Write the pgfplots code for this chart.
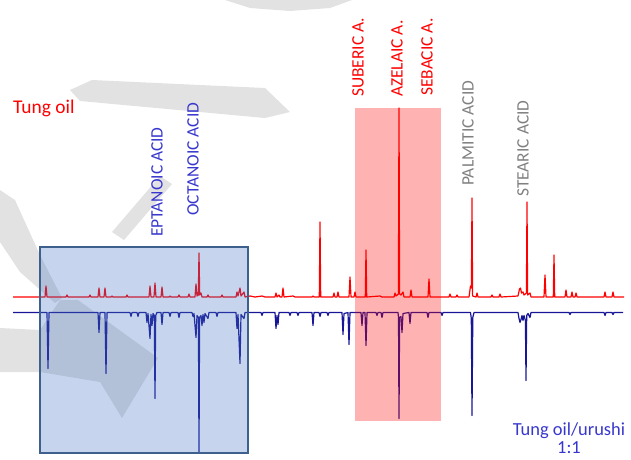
\documentclass[border=0pt]{standalone}
\usepackage{pgfplots}
\pgfplotsset{compat=1.18}
\usepackage{pgfplotstable}
\usepackage{fontspec}
\setmainfont{Carlito}

\definecolor{traceblue}{RGB}{22,22,150}
\definecolor{lblblue}{RGB}{55,55,205}
\definecolor{lblgray}{RGB}{128,128,128}
\definecolor{boxblue}{RGB}{68,114,196}
\definecolor{boxedge}{RGB}{62,96,140}
\definecolor{wmgray}{RGB}{226,226,226}

% Tung oil pyrogram: retention position t, peak height h above baseline
\pgfplotstableread{
t h
13 0
45 0
46 11
47 0
66 0
67 2
68 0
89 0
90 2
91 0
98 0
99 9
100 0
104 0
105 9
106 0
111 0
112 1
113 0
126 0
127 2
128 0
149 0
150 11
151 0
154 0
155 14
156 0
161 0
162 10
163 0
169 0
170 1
171 0
178 0
179 2
180 0
188 0
189 3
190 0
195 0
196 13
197 1
198.3 2
199 44
199.7 2
201 4
202 0
207 0
208 2
209 0
221 0
222 2
223 0
236 0
237 5
238 1
240 9
241 1
244 5
245 0
250 1
255 0
262 1
265 0
275 0
276 4
277 0
279 2
280 0
282 0
283 9
284 0
293 1
295 0
312 0
313 1
314 0
319.3 0
320 75
320.7 0
333 0
334 4
335 0
337 0
338 5
339 0
349 0
350 20
351 0
354 0
355 5
356 0
365.3 0
366 47
366.7 0
380 1
382 0
394 0
395 4
396 1
398.4 3
399 189
399.6 3
401 2
403 5
404 0
410 0
411 7
412 0
428 0
429 18
430 0
449 0
450 3
451 0
456 0
457 2
458 0
469 0
470.5 11
471.4 9
472 99
472.6 1
476 0
477 4
478 0
491 0
492 2
493 0
499 0
500 3
501 0
518 1
519.5 8
520.5 9
521.5 4
523 5
524 2
526.4 4
527 95
527.6 2
530 4
531 0
544 0
545 22
546 0
553.3 0
554 42
554.7 0
565 0
566 7
567 0
571 0
572 5
573 0
575 0
576 4
577 0
604 0
605 5
606 0
612 0
613 5
614 0
624 0
}\tungoil

% Tung oil/urushi 1:1 pyrogram: retention position t, peak depth d below baseline
\pgfplotstableread{
t d
13 0
47 0
48 56
49 0
98 0
99 20
100 0
105 0
106 61
107 0
130 0
131 4
132 0
137 0
138 4
139 0
146 0
147 10
148 1
150 26
151 2
152 13
153 1
154.3 3
155 86
155.7 3
157 0
161 0
162 12
163 0
169 0
170 4
171 0
178 0
179 5
180 0
192 0
193 4
194 1
196 25
197 3
198.4 5
199 140
199.6 5
201 3
202 13
203 2
204 10
205 1
208 6
209 0
216 0
217 4
218 0
236 0
237 16
238 2
240 51
241 2
244 6
245 0
261 0
262 3
263 0
275 0
276 16
277 3
278 12
279 0
289 0
290 3
291 0
297 0
298 3
299 0
312 0
313 13
314 0
319 0
320 4
321 0
327 0
328 3
329 0
342 0
343 22
344 1
348 0
349 32
350 0
361 0
362 13
363 0
365 0
366 33
367 0
376 0
377 3
378 0
381 0
382 5
383 0
398 0
398.5 5
399 106
399.6 5
401 4
402 20
403 1
409 0
410 11
411 0
427 0
428 5
429 0
441 0
442 3
443 0
470.5 0
471.3 6
472 103
472.8 5
474 0
518 0
519 6
520 10
521 7
522 3
523 8
524 3
525.4 8
526 68
526.7 3
528 1
530 5
531 0
569 0
570 2
571 0
604 0
605 3
606 0
612 0
613 2
614 0
623 0
}\tungurushi

\begin{document}
\begin{tikzpicture}
\begin{axis}[
  name=ax, at={(0,0)}, anchor=south west,
  scale only axis, width=631bp, height=460bp,
  xmin=0, xmax=631, ymin=0, ymax=460, y dir=reverse,
  axis lines=none, clip=false,
]
% faint background logo
\fill[wmgray] (axis cs:0,190) -- (axis cs:15,200) -- (axis cs:40,255) -- (axis cs:62,298)
  -- (axis cs:55,303) -- (axis cs:20,272) -- (axis cs:0,242) -- cycle;
\fill[wmgray] (axis cs:0,328) -- (axis cs:40,330) -- (axis cs:60,300) -- (axis cs:78,300)
  -- (axis cs:158,358) -- (axis cs:122,418) -- (axis cs:100,382) -- (axis cs:40,372)
  -- (axis cs:0,372) -- cycle;
\fill[wmgray] (axis cs:112,232) -- (axis cs:160,176) -- (axis cs:172,184) -- (axis cs:124,240) -- cycle;
\fill[wmgray] (axis cs:70,90) -- (axis cs:92,80) -- (axis cs:265,88) -- (axis cs:290,112)
  -- (axis cs:265,118) -- (axis cs:80,101) -- cycle;
\fill[wmgray] (axis cs:225,0) -- (axis cs:352,0) -- (axis cs:330,8) -- (axis cs:290,11)
  -- (axis cs:250,8) -- cycle;

% the two traces, mirrored about the gap between them
\addplot[red, line width=1.2bp, line join=round] table[x=t, y expr=297-\thisrow{h}] {\tungoil};
\addplot[traceblue, line width=1.2bp, line join=round] table[x=t, y expr=312.5+\thisrow{d}] {\tungurushi};

% highlighted regions
\draw[draw=boxedge, line width=1.6bp, fill=boxblue, fill opacity=0.3]
  (axis cs:40,247) rectangle (axis cs:248,453);
\fill[red, opacity=0.3] (axis cs:355,108) rectangle (axis cs:441,421);

% labels
\node[anchor=west, inner sep=0, text=red, font=\fontsize{19.5}{22}\selectfont]
  at (axis cs:13,108) {Tung oil};
\node[align=center, inner sep=0, text=lblblue, font=\fontsize{18.5}{18}\selectfont]
  at (axis cs:569,438) {Tung oil/urushi\\1:1};
\tikzset{vlab/.style={rotate=90, anchor=west, inner sep=0, font=\fontsize{17.5}{20}\selectfont}}
\node[vlab, text=lblblue] at (axis cs:157,237) {EPTANOIC ACID};
\node[vlab, text=lblblue] at (axis cs:193,216) {OCTANOIC ACID};
\node[vlab, text=red] at (axis cs:358,97) {SUBERIC A.};
\node[vlab, text=red] at (axis cs:397,97) {AZELAIC A.};
\node[vlab, text=red] at (axis cs:427,96) {SEBACIC A.};
\node[vlab, text=lblgray] at (axis cs:468,186) {PALMITIC ACID};
\node[vlab, text=lblgray] at (axis cs:523,197) {STEARIC ACID};
\end{axis}
\pgfresetboundingbox
\useasboundingbox (0,0) rectangle (631bp,460bp);
\end{tikzpicture}
\end{document}
